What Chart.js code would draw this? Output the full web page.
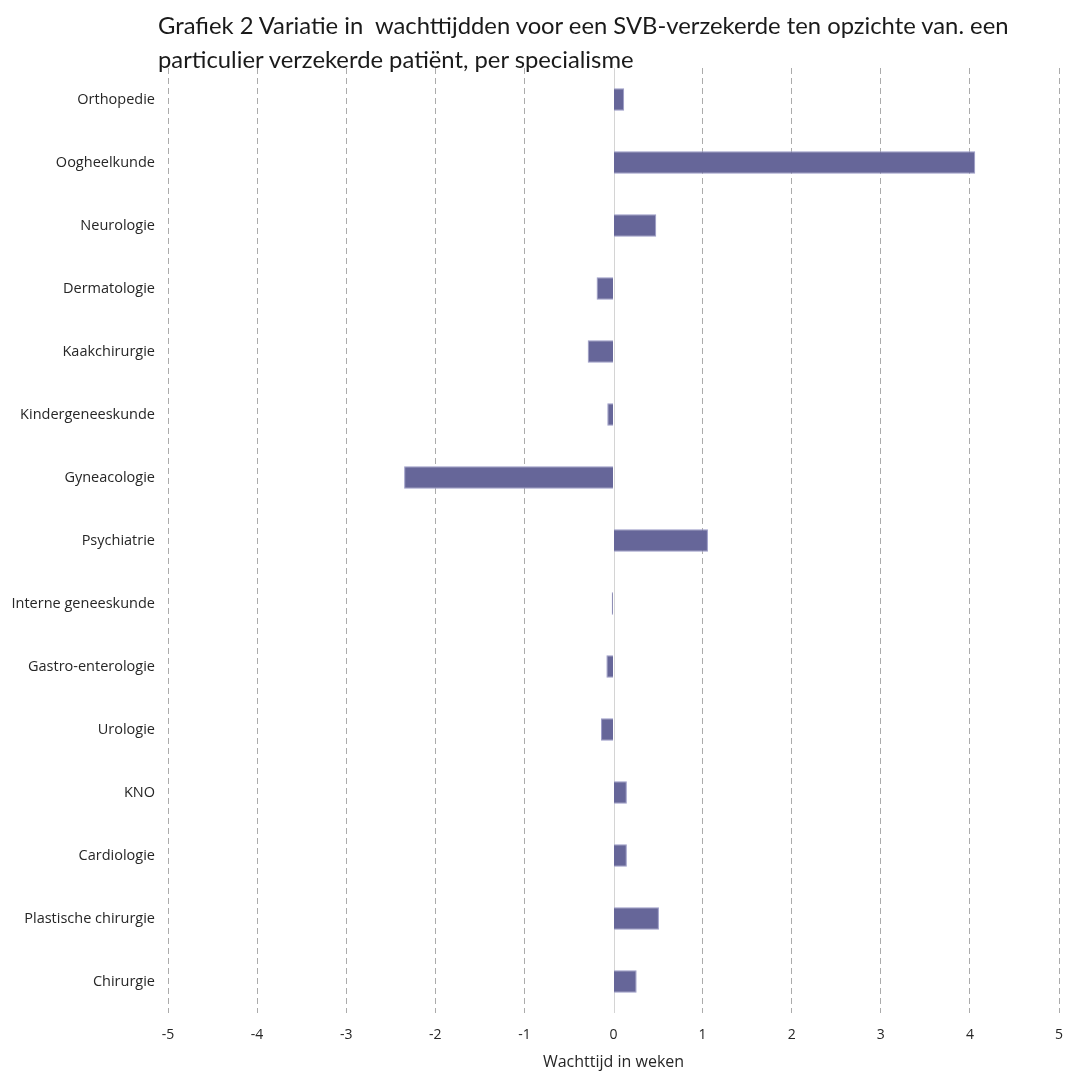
<!DOCTYPE html>
<html>
<head>
<meta charset="utf-8">
<script src="https://cdn.jsdelivr.net/npm/chart.js@4/dist/chart.umd.min.js"></script>
<style>
	html, body { margin: 0; background: #fff; overflow: hidden; }
	#wrap { position: relative; width: 1065px; height: 1073px; }
	#wrap canvas { display: block; }
	#title {
		position: absolute; left: 158px; top: 8px;
		font-family: Lato, "Open Sans", sans-serif; font-size: 23.8px; line-height: 34px;
		color: #1a1a1a; white-space: nowrap;
	}
</style>
</head>
<body>
<div id="wrap">
	<canvas id="bar-chart"></canvas>
	<div id="title">Grafiek 2 Variatie in&nbsp; wachttijdden voor een SVB-verzekerde ten opzichte van. een<br>particulier verzekerde patiënt, per specialisme</div>
</div>
<script>
	// Wachttijd verschil per specialisme (weken)
	var specialismen = [
		"Orthopedie",
		"Oogheelkunde",
		"Neurologie",
		"Dermatologie",
		"Kaakchirurgie",
		"Kindergeneeskunde",
		"Gyneacologie",
		"Psychiatrie",
		"Interne geneeskunde",
		"Gastro-enterologie",
		"Urologie",
		"KNO",
		"Cardiologie",
		"Plastische chirurgie",
		"Chirurgie",
	];
	var verschil = [
		0.12, 4.06, 0.48, -0.19, -0.29, -0.07, -2.35, 1.06, -0.02, -0.08, -0.14,
		0.15, 0.15, 0.51, 0.26,
	];
	var xMin = -5;
	var xMax = 5;

	var labelFont = { family: "'Open Sans', sans-serif", size: 14.5 };
	var tickFont = { family: "'Open Sans', sans-serif", size: 14 };
	var axisTitleFont = { family: "'Open Sans', sans-serif", size: 16 };

	// solid zero line on top of the dashed grid
	var zeroLine = {
		id: "zeroLine",
		beforeDatasetsDraw: function (chart) {
			var x = chart.scales.x.getPixelForValue(0);
			var area = chart.chartArea;
			var ctx = chart.ctx;
			ctx.save();
			ctx.strokeStyle = "#d4d4d4";
			ctx.lineWidth = 1;
			ctx.beginPath();
			ctx.moveTo(Math.round(x) + 0.5, area.top);
			ctx.lineTo(Math.round(x) + 0.5, area.bottom);
			ctx.stroke();
			ctx.restore();
		},
	};

	var ctx = document.getElementById("bar-chart").getContext("2d");
	var myChart = new Chart(ctx, {
		type: "bar",
		data: {
			labels: specialismen,
			datasets: [
				{
					label: "Wachttijd in weken",
					backgroundColor: "#666699",
					borderColor: "#9a9ac6",
					borderWidth: 1,
					barPercentage: 0.36,
					categoryPercentage: 1,
					data: verschil,
				},
			],
		},
		options: {
			indexAxis: "y",
			responsive: true,
			maintainAspectRatio: false,
			animation: false,
			layout: { padding: { top: 68, right: 6, left: 0, bottom: 0 } },
			plugins: {
				legend: { display: false },
				tooltip: { enabled: false },
			},
			scales: {
				x: {
					min: xMin,
					max: xMax,
					ticks: {
						stepSize: 1,
						padding: 14,
						color: "#262626",
						font: tickFont,
					},
					grid: {
						color: function (c) {
							return c.tick && c.tick.value === 0 ? "rgba(0,0,0,0)" : "#ababab";
						},
						drawTicks: false,
					},
					border: { display: false, dash: [6, 4] },
					title: {
						display: true,
						text: "Wachttijd in weken",
						color: "#262626",
						font: axisTitleFont,
						padding: { top: 4, bottom: 1 },
					},
					afterFit: function (s) {
						s.height = 60;
						s.paddingLeft = 0;
						s.paddingRight = 0;
					},
				},
				y: {
					grid: { display: false, drawTicks: false },
					border: { display: false },
					ticks: {
						padding: 13,
						color: "#262626",
						font: labelFont,
					},
					afterFit: function (s) { s.width = 168; },
				},
			},
		},
		plugins: [zeroLine],
	});
</script>
</body>
</html>
